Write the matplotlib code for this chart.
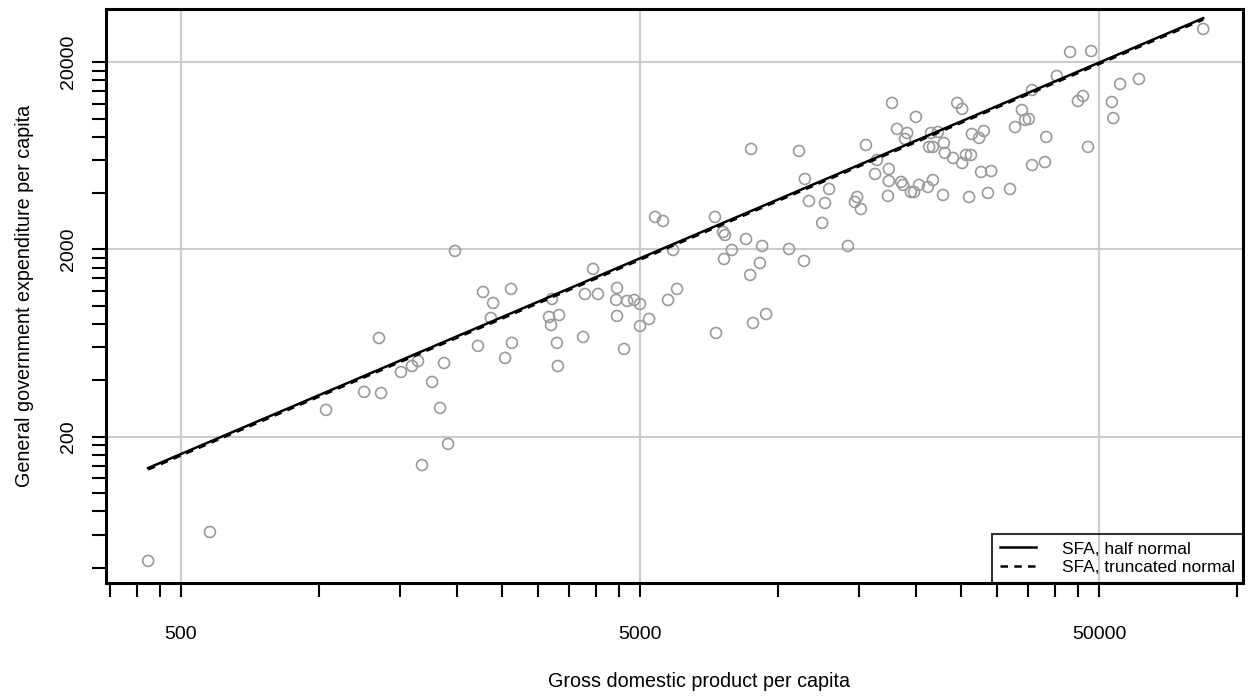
import matplotlib
matplotlib.use("Agg")
import matplotlib.pyplot as plt
from matplotlib.ticker import NullLocator
import numpy as np

plt.rcParams['font.family'] = ['Liberation Sans', 'DejaVu Sans']

# GDP per capita and government expenditure per capita
gdp = [424, 578, 1035, 1253, 1350, 1364, 1507, 1593, 1642, 1675,
       1762, 1834, 1871, 1909, 1976, 2218, 2275, 2393, 2366, 2541,
       2618, 2630, 3215, 3168, 3331, 3200, 3296, 3311, 3951, 3793,
       4049, 3758, 4456, 4436, 4688, 4853, 4456, 4615, 5000, 5232,
       5000, 5393, 5610, 5902, 5754, 6021, 7322, 7282, 7586, 7656,
       7621, 7925, 8511, 8690, 8812, 9413, 8730, 9226, 9124, 10560,
       11380, 11100, 11430, 11670, 12470, 12650, 12910, 14190, 14860, 14690,
       15140, 15530, 16260, 16410, 17340, 17420, 17420, 17700, 18150, 18890,
       19100, 18530, 18710, 19460, 19770, 19950, 20270, 21190, 21730, 21330,
       21730, 21530, 22290, 22860, 22960, 23070, 24550, 25170, 24040, 25170,
       25650, 26300, 26420, 27400, 28060, 26060, 27670, 29110, 28640, 31990,
       32810, 33960, 34510, 35160, 35730, 35730, 38110, 38370, 40460, 43250,
       44980, 46130, 47310, 48080, 53330, 53700, 55590, 61090, 84330]
gov_exp = [43.4, 61.9, 278, 347, 673, 342, 443, 477, 507, 141,
           392, 285, 495, 183, 1964, 611, 1186, 1036, 861, 527,
           1231, 634, 1088, 872, 893, 790, 634, 477, 1574, 1157,
           1157, 682, 1246, 1075, 1062, 1075, 883, 588, 1023, 851,
           780, 2984, 2840, 1988, 1075, 1231, 716, 2984, 2478, 2390,
           1779, 1988, 2275, 1462, 810, 904, 6887, 2088, 1694, 2012,
           1737, 6720, 4761, 3631, 2773, 3543, 4209, 2088, 3813, 3589,
           3290, 7230, 5063, 6014, 3865, 4645, 5383, 12130, 8810, 7787,
           8380, 4590, 4426, 4055, 4055, 10210, 4426, 4315, 4699, 7063,
           7063, 8380, 8492, 3910, 7413, 6561, 12130, 11270, 6166, 5794,
           6397, 6397, 8279, 7889, 8590, 3813, 5188, 5250, 4009, 4209,
           9016, 11120, 9840, 9954, 14220, 5649, 5861, 7980, 16900, 22700,
           12420, 13210, 7063, 22960, 12270, 10070, 15310, 16290, 30130]

# fitted frontiers (endpoints at min / max GDP)
line_gdp = [min(gdp), max(gdp)]
sfa_half_normal = [136, 34400]
sfa_truncated_normal = [133.5, 33800]

x_ticks = [350, 400, 450, 500, 1000, 1500, 2000, 2500, 3000, 3500, 4000,
           4500, 5000, 10000, 15000, 20000, 25000, 30000, 35000, 40000,
           45000, 50000, 100000]
x_labeled = [500, 5000, 50000]
y_ticks = [40, 60, 80, 100, 120, 140, 160, 180, 200, 400, 600, 800, 1000,
           1200, 1400, 1600, 1800, 2000, 4000, 6000, 8000, 10000, 12000,
           14000, 16000, 18000, 20000]
y_labeled = [200, 2000, 20000]

fig = plt.figure(figsize=(12.48, 6.96), dpi=100)
ax = fig.add_axes([0.0853, 0.1624, 0.996 - 0.0853, 0.9864 - 0.1624])
ax.set_xscale('log')
ax.set_yscale('log')
ax.set_xlim(344, 102960)
ax.set_ylim(33.07, 38290)

for v in x_labeled:
    ax.axvline(v, color='#cccccc', linewidth=1.5, zorder=0)
for v in y_labeled:
    ax.axhline(v, color='#cccccc', linewidth=1.5, zorder=0)

ax.scatter(gdp, gov_exp, s=62, facecolors='none', edgecolors='#9a9a9a',
           linewidths=1.2, zorder=2)
ax.plot(line_gdp, sfa_half_normal, color='black', linewidth=1.8,
        label='SFA, half normal', zorder=3)
ax.plot(line_gdp, sfa_truncated_normal, color='black', linewidth=1.8,
        linestyle=(0, (3, 2.5)), label='SFA, truncated normal', zorder=3)

ax.set_xticks(x_ticks, [str(t) if t in x_labeled else '' for t in x_ticks])
ax.set_yticks(y_ticks, [str(t) if t in y_labeled else '' for t in y_ticks])
ax.xaxis.set_minor_locator(NullLocator())
ax.yaxis.set_minor_locator(NullLocator())
ax.tick_params(axis='both', direction='out', length=10, width=1.5,
               labelsize=14, colors='black')
ax.tick_params(axis='x', pad=21)
ax.tick_params(axis='y', pad=11)
for lab in ax.get_yticklabels():
    lab.set_rotation(90)
    lab.set_va('center')

for sp in ax.spines.values():
    sp.set_linewidth(2.2)

ax.set_xlabel('Gross domestic product per capita', fontsize=14.2)
ax.xaxis.set_label_coords(0.521, -0.155)
ax.set_ylabel('General government expenditure per capita', fontsize=14.2,
              labelpad=19)

leg = ax.legend(loc='lower right', fontsize=12.5, frameon=True, fancybox=False,
                borderaxespad=0, handlelength=2.1, handletextpad=1.5,
                borderpad=0.45, labelspacing=0.2)
leg.get_frame().set_facecolor('none')
leg.get_frame().set_edgecolor('black')
leg.get_frame().set_linewidth(1.5)

fig.savefig('out.png', dpi=100)
